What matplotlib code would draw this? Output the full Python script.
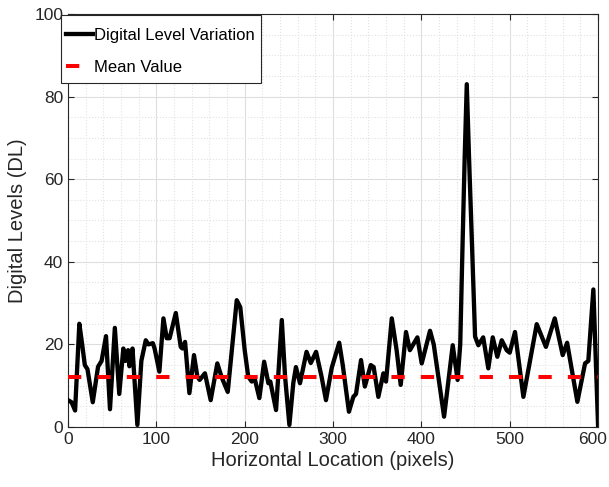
import matplotlib
matplotlib.use("Agg")
import matplotlib.pyplot as plt
from matplotlib.ticker import MultipleLocator
from matplotlib.transforms import ScaledTranslation, IdentityTransform
from matplotlib.patches import Rectangle

plt.rcParams['font.family'] = ['Liberation Sans', 'DejaVu Sans']

# Horizontal location (pixels) and digital levels
x_pos = [0, 4, 8, 12.8, 16, 19, 22, 28, 34, 38, 43, 47.5, 53, 58, 62.6, 65, 68, 69.5, 73, 78.5,
         83, 88, 91, 96, 98, 103.4, 108, 111.7, 115, 122, 127.6, 129.5, 132.5, 137.4, 142.6,
         146.4, 149, 155, 161.5, 169, 174, 180.8, 191, 195, 200, 204, 208, 211, 216.6, 222,
         226.8, 229, 235.5, 242, 245.7, 250.6, 255, 258, 262.6, 270, 274.8, 280.8, 287, 292,
         298.5, 307, 311, 318, 323, 326, 331.7, 336, 342.7, 346, 351.3, 357, 360, 366.5, 372,
         376.6, 382.6, 387, 395.5, 400.4, 409.8, 414, 425.7, 435.5, 441, 444, 446.5, 449,
         451.4, 454, 457.5, 460.8, 464.5, 470, 475.8, 480.8, 486, 491, 496.6, 500, 506, 515.5,
         530.6, 541, 551, 560, 565, 576.6, 585.3, 589, 594.7, 600]
dl_values = [6.5, 6, 4, 25, 20, 15, 14, 6, 14.6, 16, 22, 4.3, 24, 8, 19, 16, 18.6, 14.7, 19, 0.5,
             16, 21, 20, 20.3, 19, 13.4, 26.3, 21.5, 21.5, 27.6, 19.4, 19, 20.6, 8.2, 17.4,
             12.2, 11.4, 13, 6.5, 15.4, 12, 8.5, 30.7, 29, 18.6, 12.2, 11, 12, 7, 15.8,
             10.6, 11, 4.1, 25.9, 12.2, 0.5, 10.6, 14.5, 10.6, 18.2, 15.5, 18.2, 12.2, 6.5,
             14.3, 20.4, 15, 3.7, 7.3, 8, 16.2, 9.8, 15, 14.5, 7.3, 13, 11, 26.3, 18.6,
             10.2, 23, 18.6, 21.7, 15.4, 23.3, 20, 2.5, 19.8, 11.4, 20, 43, 65,
             83, 65, 43, 21.9, 19.8, 21.7, 14.2, 21.7, 17, 21, 18.6, 18, 23, 7.3,
             24.9, 19.4, 26.3, 17.4, 20.4, 6.1, 15.4, 16, 33.3, 0.5]
mean_value = 12
x_range = [0, 600]

W, H = 609, 487
fig = plt.figure(figsize=(W / 100, H / 100), dpi=100)
ax = fig.add_axes([0.1117, 0.1232, 0.8703, 0.8481])

ax.plot(x_pos, dl_values, color='black', lw=3.1, solid_joinstyle='round',
        label='Digital Level Variation', zorder=3)
ax.plot(x_range, [mean_value, mean_value], color='#ff0000', lw=2.9,
        linestyle=(0, (3.3, 4.0)), label='Mean Value', zorder=4)

ax.set_xlim(0, 600)
ax.set_ylim(0, 100)
ax.xaxis.set_major_locator(MultipleLocator(100))
ax.yaxis.set_major_locator(MultipleLocator(20))
ax.xaxis.set_minor_locator(MultipleLocator(20))
ax.yaxis.set_minor_locator(MultipleLocator(5))
ax.grid(True, which='major', color='#dedede', lw=0.8, zorder=0)
ax.grid(True, which='minor', color='#e2e2e2', lw=0.8, linestyle=':', zorder=0)
ax.set_axisbelow(True)
ax.tick_params(which='major', direction='in', length=4, width=0.8, colors='#262626',
               labelsize=12.5, top=True, right=True)
ax.tick_params(which='minor', length=0)
for s in ax.spines.values():
    s.set_color('#262626')
    s.set_linewidth(0.8)

ax.set_xlabel('Horizontal Location (pixels)', fontsize=14.5, color='#262626', labelpad=3)
ax.set_ylabel('Digital Levels (DL)', fontsize=14.5, color='#262626', labelpad=5)

# Legend (text and handles) placed in pixel coordinates, frame drawn separately
frame_left, frame_top, top_pad, bottom_pad = 61, 15, 8, 3
leg = ax.legend(loc='upper left', bbox_to_anchor=(frame_left, H - frame_top - top_pad),
                bbox_transform=IdentityTransform(), borderaxespad=0, fontsize=12,
                frameon=False, handlelength=1.6, handletextpad=0.1, labelspacing=1.0,
                borderpad=0.3)
leg.set_zorder(6)
for t in leg.get_texts():
    t.set_color('black')

fig.canvas.draw()
renderer = fig.canvas.get_renderer()
bb = leg.get_window_extent(renderer)
rect = Rectangle((bb.x0, bb.y0 - bottom_pad), bb.width + 1, bb.height + top_pad + bottom_pad,
                 transform=IdentityTransform(), facecolor='white', edgecolor='#262626',
                 lw=0.8, zorder=5, clip_on=False)
ax.add_artist(rect)

for lab in ax.get_xticklabels():
    if lab.get_text() == '600':
        lab.set_transform(lab.get_transform() + ScaledTranslation(-4 / 72, 0, fig.dpi_scale_trans))

fig.savefig('out.png', dpi=100)
